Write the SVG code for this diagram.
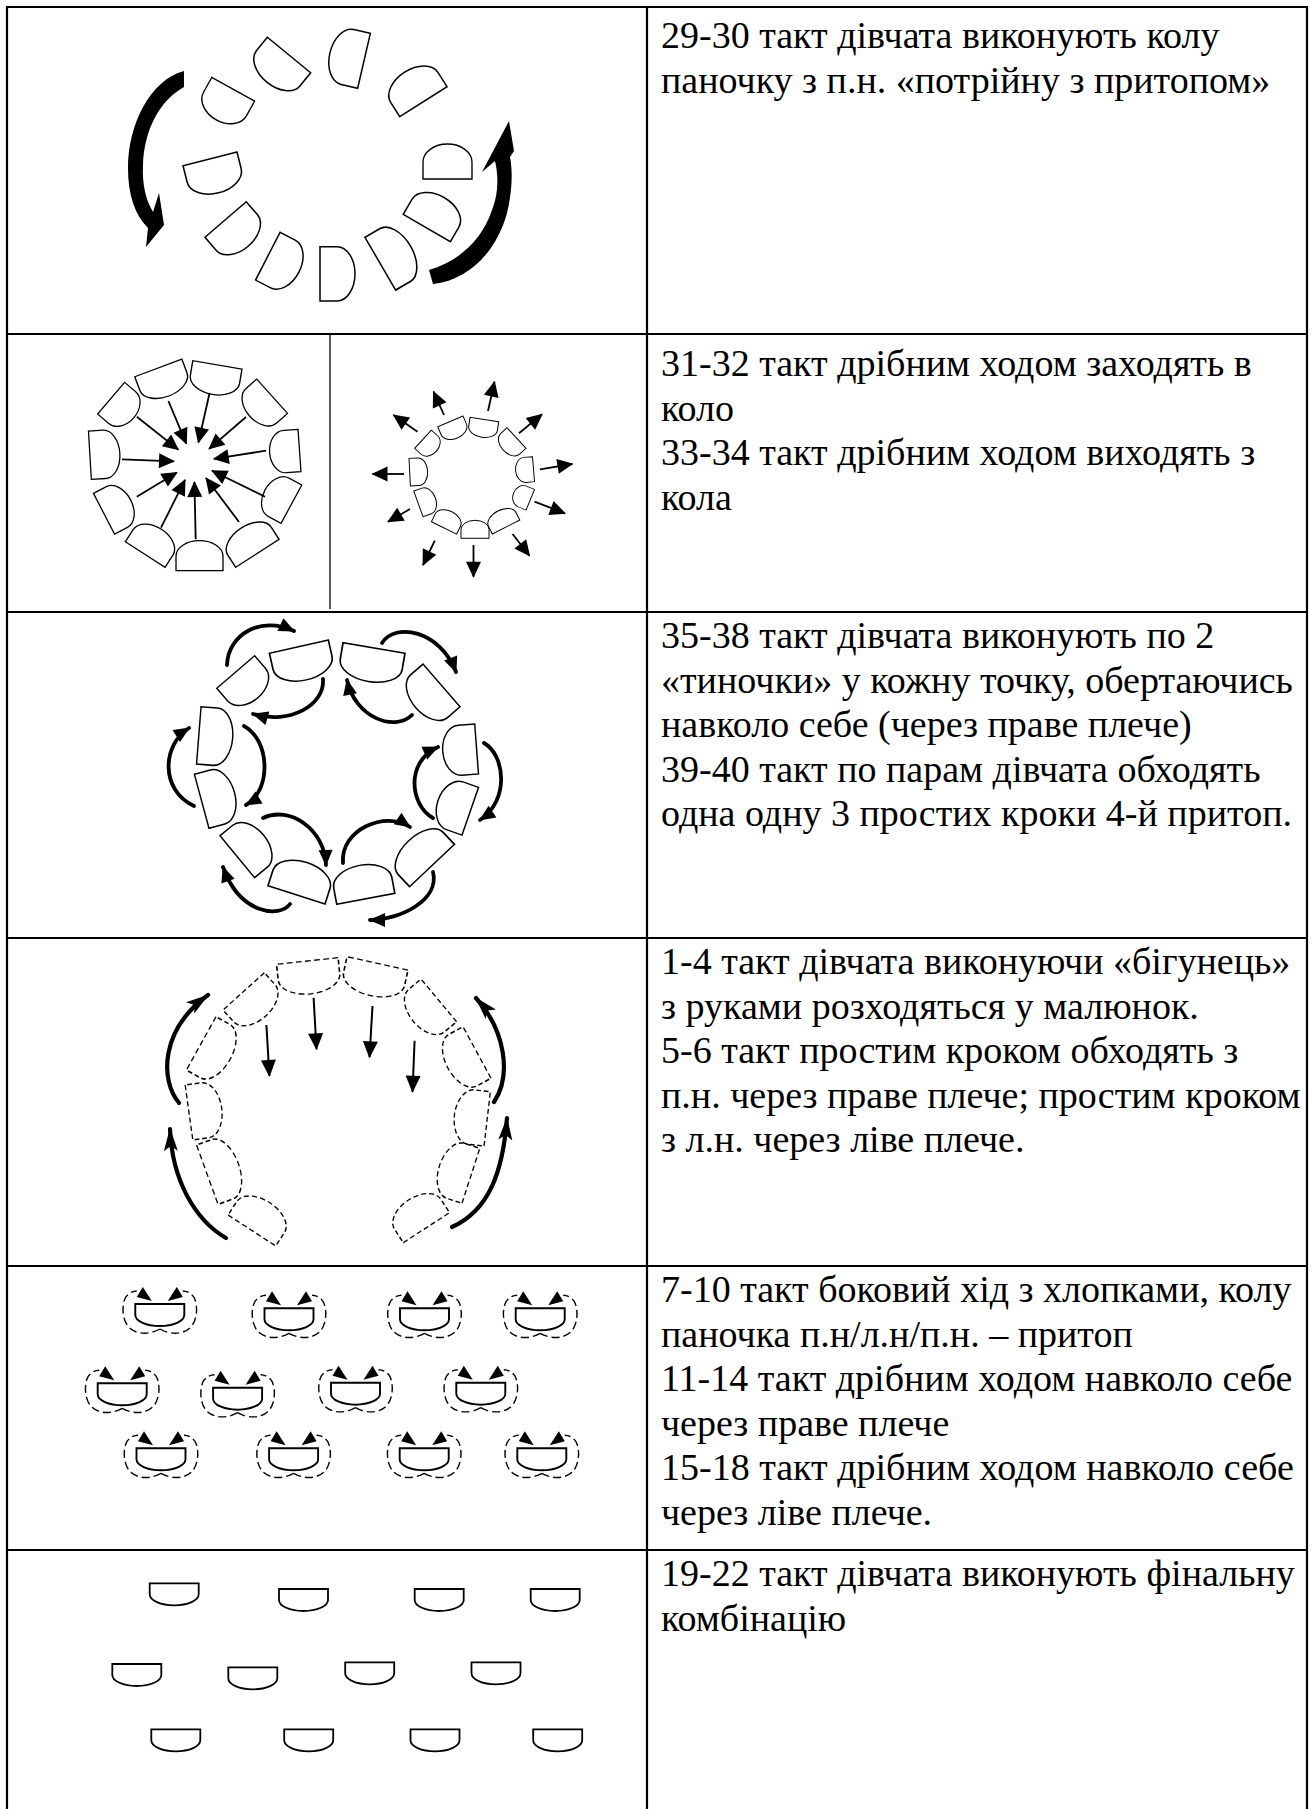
<svg xmlns="http://www.w3.org/2000/svg" xmlns:xlink="http://www.w3.org/1999/xlink" width="1313" height="1809" viewBox="0 0 1313 1809">
<style>
.t{font-family:"Liberation Serif","Times New Roman",serif;font-size:38px;fill:#000}
.sh{fill:#fff;stroke:#000;stroke-width:1.5;vector-effect:non-scaling-stroke}
.shs{fill:#fff;stroke:#000;stroke-width:1.9;vector-effect:non-scaling-stroke}
.dsh{fill:none;stroke:#000;stroke-width:1.4;stroke-dasharray:5,3;vector-effect:non-scaling-stroke}
.ln{fill:none;stroke:#000;stroke-width:1.8}
.cv{fill:none;stroke:#000;stroke-width:3.8;stroke-linecap:round}
.cv4{fill:none;stroke:#000;stroke-width:4.2;stroke-linecap:round}
.lobe{fill:none;stroke:#000;stroke-width:1.4;stroke-dasharray:8,4}
</style>
<defs>
<path id="d" d="M-27,0H27V-17A27,18 0 0 0 -27,-17Z"/>
<path id="bowl" d="M-24.5,0H24.5V11A24.5,11 0 0 1 -24.5,11Z"/>
<marker id="m2" markerUnits="userSpaceOnUse" markerWidth="17" markerHeight="15" refX="15" refY="7.5" orient="auto" overflow="visible"><path d="M0,0L16,7.5L0,15Z"/></marker>
<marker id="m4" markerUnits="userSpaceOnUse" markerWidth="18" markerHeight="15" refX="16" refY="7.5" orient="auto" overflow="visible"><path d="M0,0L17,7.5L0,15Z"/></marker>
<marker id="m3" markerUnits="userSpaceOnUse" markerWidth="17" markerHeight="14" refX="15" refY="7" orient="auto" overflow="visible"><path d="M0,0L16,7L0,14Z"/></marker>
<marker id="m4c" markerUnits="userSpaceOnUse" markerWidth="24" markerHeight="14" refX="22" refY="7" orient="auto" overflow="visible"><path d="M0,0L23,7L0,14L5,7Z"/></marker>
<g id="u5">
<use href="#bowl" class="sh" style="stroke-width:1.9"/>
<path class="lobe" d="M0,25C-10,31 -25,31 -32,22C-38,14 -38,0 -34,-7C-31,-11 -27,-13 -23,-13"/>
<path class="lobe" d="M0,25C10,31 25,31 32,22C38,14 38,0 34,-7C31,-11 27,-13 23,-13"/>
<path d="M-8,-3L-23,-7L-17,-17Z"/>
<path d="M8,-3L23,-7L17,-17Z"/>
</g>
</defs>
<rect width="1313" height="1809" fill="#fff"/>

<g id="table" stroke="#000" stroke-width="2.2" fill="none">
<line x1="6" y1="7" x2="1308" y2="7"/>
<line x1="7" y1="6" x2="7" y2="1809"/>
<line x1="1307" y1="6" x2="1307" y2="1809"/>
<line x1="647" y1="6" x2="647" y2="1809"/>
<line x1="7" y1="334" x2="1307" y2="334"/>
<line x1="7" y1="612" x2="1307" y2="612"/>
<line x1="7" y1="938" x2="1307" y2="938"/>
<line x1="7" y1="1266" x2="1307" y2="1266"/>
<line x1="7" y1="1550" x2="1307" y2="1550"/>
<line x1="330" y1="335" x2="330" y2="609" stroke-width="1.3"/>
</g>

<g id="texts">
<text class="t" x="661" y="48"><tspan x="661">29-30 такт дівчата виконують колу</tspan><tspan x="661" dy="44.5">паночку з п.н. «потрійну з притопом»</tspan></text>
<text class="t" x="661" y="376"><tspan x="661">31-32 такт дрібним ходом заходять в</tspan><tspan x="661" dy="44.5">коло</tspan><tspan x="661" dy="44.5">33-34 такт дрібним ходом виходять з</tspan><tspan x="661" dy="44.5">кола</tspan></text>
<text class="t" x="661" y="648"><tspan x="661">35-38 такт дівчата виконують по 2</tspan><tspan x="661" dy="44.5">«тиночки» у кожну точку, обертаючись</tspan><tspan x="661" dy="44.5">навколо себе (через праве плече)</tspan><tspan x="661" dy="44.5">39-40 такт по парам дівчата обходять</tspan><tspan x="661" dy="44.5">одна одну 3 простих кроки 4-й притоп.</tspan></text>
<text class="t" x="661" y="974"><tspan x="661">1-4 такт дівчата виконуючи «бігунець»</tspan><tspan x="661" dy="44.5">з руками розходяться у малюнок.</tspan><tspan x="661" dy="44.5">5-6 такт простим кроком обходять з</tspan><tspan x="661" dy="44.5">п.н. через праве плече; простим кроком</tspan><tspan x="661" dy="44.5">з л.н. через ліве плече.</tspan></text>
<text class="t" x="661" y="1302"><tspan x="661">7-10 такт боковий хід з хлопками, колу</tspan><tspan x="661" dy="44.5">паночка п.н/л.н/п.н. – притоп</tspan><tspan x="661" dy="44.5">11-14 такт дрібним ходом навколо себе</tspan><tspan x="661" dy="44.5">через праве плече</tspan><tspan x="661" dy="44.5">15-18 такт дрібним ходом навколо себе</tspan><tspan x="661" dy="44.5">через ліве плече.</tspan></text>
<text class="t" x="661" y="1586"><tspan x="661">19-22 такт дівчата виконують фінальну</tspan><tspan x="661" dy="44.5">комбінацію</tspan></text>
</g>

<g id="fig1">
<use href="#d" class="sh" transform="translate(364,60.8) rotate(-77) scale(1.044,1)"/>
<use href="#d" class="sh" transform="translate(289,55) rotate(-140.7) scale(1.037,1)"/>
<use href="#d" class="sh" transform="translate(233.2,89.2) rotate(-151.1) scale(0.907,1)"/>
<use href="#d" class="sh" transform="translate(210,158.9) rotate(165.8) scale(1.031,1)"/>
<use href="#d" class="sh" transform="translate(225.6,219.5) rotate(139.2) scale(1.009,1)"/>
<use href="#d" class="sh" transform="translate(267.8,256.2) rotate(117.2) scale(0.993,1)"/>
<use href="#d" class="sh" transform="translate(320,273.8) rotate(90) scale(1.006,1)"/>
<use href="#d" class="sh" transform="translate(380.3,263.7) rotate(59.8) scale(1.13,1)"/>
<use href="#d" class="sh" transform="translate(426.8,228) rotate(30.2) scale(1.009,1)"/>
<use href="#d" class="sh" transform="translate(447.5,179) rotate(0) scale(0.907,1)"/>
<use href="#d" class="sh" transform="translate(423.4,101.7) rotate(-32.4) scale(1.037,1)"/>
</g>

<g id="fig2a">
<use href="#d" class="sh" transform="translate(158.3,367.9) rotate(159.4) scale(0.931,0.857)"/>
<use href="#d" class="sh" transform="translate(217.4,364.9) rotate(189.6) scale(0.924,0.857)"/>
<use href="#d" class="sh" transform="translate(272.1,396.2) rotate(228.1) scale(0.854,0.857)"/>
<use href="#d" class="sh" transform="translate(299.5,450.5) rotate(266) scale(0.787,0.857)"/>
<use href="#d" class="sh" transform="translate(291.4,504.2) rotate(298.5) scale(0.807,0.857)"/>
<use href="#d" class="sh" transform="translate(257.4,553.3) rotate(327.1) scale(0.956,0.857)"/>
<use href="#d" class="sh" transform="translate(199.5,570.7) rotate(0) scale(0.87,0.857)"/>
<use href="#d" class="sh" transform="translate(145.2,554.5) rotate(32.9) scale(0.874,0.857)"/>
<use href="#d" class="sh" transform="translate(104,513.7) rotate(62.6) scale(0.848,0.857)"/>
<use href="#d" class="sh" transform="translate(89.9,455.2) rotate(86.6) scale(0.896,0.857)"/>
<use href="#d" class="sh" transform="translate(111.1,398.2) rotate(130.4) scale(0.77,0.857)"/>
</g>

<g id="fig2b">
<use href="#d" class="shs" transform="translate(450.4,421.4) rotate(157.1) scale(0.509,0.514)"/>
<use href="#d" class="shs" transform="translate(484.4,419.5) rotate(188.7) scale(0.537,0.514)"/>
<use href="#d" class="shs" transform="translate(516.5,438) rotate(227.3) scale(0.519,0.514)"/>
<use href="#d" class="shs" transform="translate(533.5,469.2) rotate(265.2) scale(0.465,0.514)"/>
<use href="#d" class="shs" transform="translate(530.3,499.7) rotate(292.3) scale(0.415,0.514)"/>
<use href="#d" class="shs" transform="translate(506.1,527) rotate(332.9) scale(0.57,0.514)"/>
<use href="#d" class="shs" transform="translate(475,538.3) rotate(0) scale(0.52,0.514)"/>
<use href="#d" class="shs" transform="translate(444,527.9) rotate(26.1) scale(0.519,0.514)"/>
<use href="#d" class="shs" transform="translate(418.4,503.9) rotate(70.1) scale(0.506,0.514)"/>
<use href="#d" class="shs" transform="translate(409.7,472.2) rotate(87.1) scale(0.513,0.514)"/>
<use href="#d" class="shs" transform="translate(423,439.2) rotate(132.6) scale(0.459,0.514)"/>
</g>

<g id="fig3">
<use href="#d" class="sh" transform="translate(298.9,646.7) rotate(167.3) scale(1.119,0.971)"/>
<use href="#d" class="sh" transform="translate(374,648) rotate(189.7) scale(1.163,0.971)"/>
<use href="#d" class="sh" transform="translate(441.5,685.4) rotate(229.1) scale(1.046,0.971)"/>
<use href="#d" class="sh" transform="translate(476.6,749) rotate(265.7) scale(0.928,0.971)"/>
<use href="#d" class="sh" transform="translate(470.3,811.2) rotate(289.1) scale(0.935,0.971)"/>
<use href="#d" class="sh" transform="translate(432,865.5) rotate(316.7) scale(1.144,0.971)"/>
<use href="#d" class="sh" transform="translate(365.8,898.8) rotate(349.3) scale(1.094,0.971)"/>
<use href="#d" class="sh" transform="translate(296.5,894.9) rotate(17.8) scale(1.109,0.971)"/>
<use href="#d" class="sh" transform="translate(237.3,856.7) rotate(50.5) scale(1.007,0.971)"/>
<use href="#d" class="sh" transform="translate(201.7,801.3) rotate(74.9) scale(1.035,0.971)"/>
<use href="#d" class="sh" transform="translate(198.8,735.4) rotate(94.5) scale(1.065,0.971)"/>
<use href="#d" class="sh" transform="translate(235.7,672) rotate(139.3) scale(0.926,0.971)"/>
</g>

<g id="fig4">
<use href="#d" class="dsh" transform="translate(243.7,991.4) rotate(137.9) scale(1.03,0.943)"/>
<use href="#d" class="dsh" transform="translate(307.3,961) rotate(173.9) scale(1.146,0.943)"/>
<use href="#d" class="dsh" transform="translate(377.5,963.4) rotate(192.3) scale(1.156,0.943)"/>
<use href="#d" class="dsh" transform="translate(438.8,1000.4) rotate(230.2) scale(1.03,0.943)"/>
<use href="#d" class="dsh" transform="translate(477,1052.5) rotate(241.5) scale(1.087,0.943)"/>
<use href="#d" class="dsh" transform="translate(487.2,1118.9) rotate(276.6) scale(1.013,0.943)"/>
<use href="#d" class="dsh" transform="translate(470.9,1175.8) rotate(287.9) scale(1.07,0.943)"/>
<use href="#d" class="dsh" transform="translate(426.4,1227.7) rotate(327.1) scale(1.022,0.943)"/>
<use href="#d" class="dsh" transform="translate(251.9,1230.5) rotate(33) scale(1.054,0.943)"/>
<use href="#d" class="dsh" transform="translate(207.3,1174.7) rotate(70.1) scale(1.169,0.943)"/>
<use href="#d" class="dsh" transform="translate(189,1112.5) rotate(82.1) scale(1.028,0.943)"/>
<use href="#d" class="dsh" transform="translate(201.2,1043.4) rotate(119) scale(1.13,0.943)"/>
</g>

<g id="fig5">
<use href="#u5" transform="translate(159.8,1304)"/>
<use href="#u5" transform="translate(289,1308.3)"/>
<use href="#u5" transform="translate(424.5,1308.3)"/>
<use href="#u5" transform="translate(540.2,1308.3)"/>
<use href="#u5" transform="translate(122.2,1383.3)"/>
<use href="#u5" transform="translate(237.6,1387.7)"/>
<use href="#u5" transform="translate(355.5,1382.7)"/>
<use href="#u5" transform="translate(480.8,1382.7)"/>
<use href="#u5" transform="translate(161,1448.3)"/>
<use href="#u5" transform="translate(293.6,1448.3)"/>
<use href="#u5" transform="translate(424.2,1448.3)"/>
<use href="#u5" transform="translate(541.8,1448.3)"/>
</g>

<g id="fig6">
<use href="#bowl" class="sh" style="stroke-width:1.8" transform="translate(174.2,1583.3)"/>
<use href="#bowl" class="sh" style="stroke-width:1.8" transform="translate(303.5,1589)"/>
<use href="#bowl" class="sh" style="stroke-width:1.8" transform="translate(439.2,1589)"/>
<use href="#bowl" class="sh" style="stroke-width:1.8" transform="translate(555.2,1589)"/>
<use href="#bowl" class="sh" style="stroke-width:1.8" transform="translate(136.8,1664)"/>
<use href="#bowl" class="sh" style="stroke-width:1.8" transform="translate(252.8,1667.3)"/>
<use href="#bowl" class="sh" style="stroke-width:1.8" transform="translate(369.7,1662.3)"/>
<use href="#bowl" class="sh" style="stroke-width:1.8" transform="translate(496,1662.3)"/>
<use href="#bowl" class="sh" style="stroke-width:1.8" transform="translate(175.8,1729.3)"/>
<use href="#bowl" class="sh" style="stroke-width:1.8" transform="translate(308.7,1729.3)"/>
<use href="#bowl" class="sh" style="stroke-width:1.8" transform="translate(435,1729.3)"/>
<use href="#bowl" class="sh" style="stroke-width:1.8" transform="translate(557.7,1729.3)"/>
</g>

<g id="connectors">
<path d="M184,71C150,80 128,125 128,168C128,195 135,215 148,228L146,247L164,225L159,193L153,212C146,200 142,185 143,165C144,130 160,100 184,87Z"/>
<path d="M433,284C470,280 497,250 507,213C512,193 513,172 510,157L514,151L509,121L482,172L495,161C499,178 498,195 492,210C481,243 456,262 429,270Z"/>
<g class="ln" marker-end="url(#m2)">
<line x1="122" y1="459.3" x2="174" y2="461.3"/>
<line x1="136.8" y1="496.7" x2="176.9" y2="472.4"/>
<line x1="161" y1="527.7" x2="185" y2="479.9"/>
<line x1="195.7" y1="539.3" x2="194.4" y2="482"/>
<line x1="239" y1="522" x2="206" y2="478"/>
<line x1="265" y1="496.7" x2="212" y2="470.8"/>
<line x1="266" y1="450.7" x2="213.8" y2="458.9"/>
<line x1="246" y1="417" x2="209.1" y2="448.9"/>
<line x1="209.6" y1="393" x2="198.4" y2="442.5"/>
<line x1="168.4" y1="401" x2="186.3" y2="443.6"/>
<line x1="136.8" y1="416.7" x2="178.3" y2="449.6"/>
</g>
<g class="ln" marker-end="url(#m2)">
<line x1="488" y1="411" x2="494.5" y2="381.7"/>
<line x1="444" y1="415" x2="433.5" y2="391.7"/>
<line x1="417.5" y1="431.7" x2="393.5" y2="415"/>
<line x1="404" y1="474" x2="372.5" y2="474"/>
<line x1="410" y1="509" x2="388" y2="521.7"/>
<line x1="434.8" y1="540.7" x2="423" y2="565"/>
<line x1="473.5" y1="545" x2="473.5" y2="576.7"/>
<line x1="512.6" y1="534" x2="529.5" y2="555.7"/>
<line x1="534.5" y1="501.7" x2="565" y2="513.3"/>
<line x1="540" y1="469.3" x2="572.4" y2="464"/>
<line x1="519" y1="433.3" x2="542" y2="414.3"/>
</g>
<g class="cv" marker-end="url(#m3)">
<path d="M227,665C228,635 260,615 294,631"/>
<path d="M323,679C325,705 290,725 253,714"/>
<path d="M382,643C395,622 440,630 456,672"/>
<path d="M412,715C395,732 355,718 347,680"/>
<path d="M484,743C505,755 510,800 480,820"/>
<path d="M433,818C410,805 405,762 438,747"/>
<path d="M343,863C340,830 385,810 410,827"/>
<path d="M433,872C440,900 400,920 370,920"/>
<path d="M263,818C290,805 325,830 326,865"/>
<path d="M290,904C280,918 240,915 223,867"/>
<path d="M194,806C160,790 162,745 189,728"/>
<path d="M244,726C270,740 272,790 246,805"/>
</g>
<g class="ln" style="stroke-width:2" marker-end="url(#m4)">
<line x1="266.4" y1="1025" x2="269.4" y2="1076"/>
<line x1="313.6" y1="997.7" x2="316.5" y2="1049.3"/>
<line x1="372.5" y1="1006" x2="369.5" y2="1057.3"/>
<line x1="414.6" y1="1040.7" x2="412.5" y2="1091.7"/>
</g>
<g class="cv4" marker-end="url(#m4c)">
<path d="M179,1103C160,1080 160,1030 208,995"/>
<path d="M226,1238C195,1220 172,1180 170,1129"/>
<path d="M494,1102C512,1075 505,1030 476,998"/>
<path d="M452,1227C490,1210 503,1170 507,1118"/>
</g>
</g>
</svg>
